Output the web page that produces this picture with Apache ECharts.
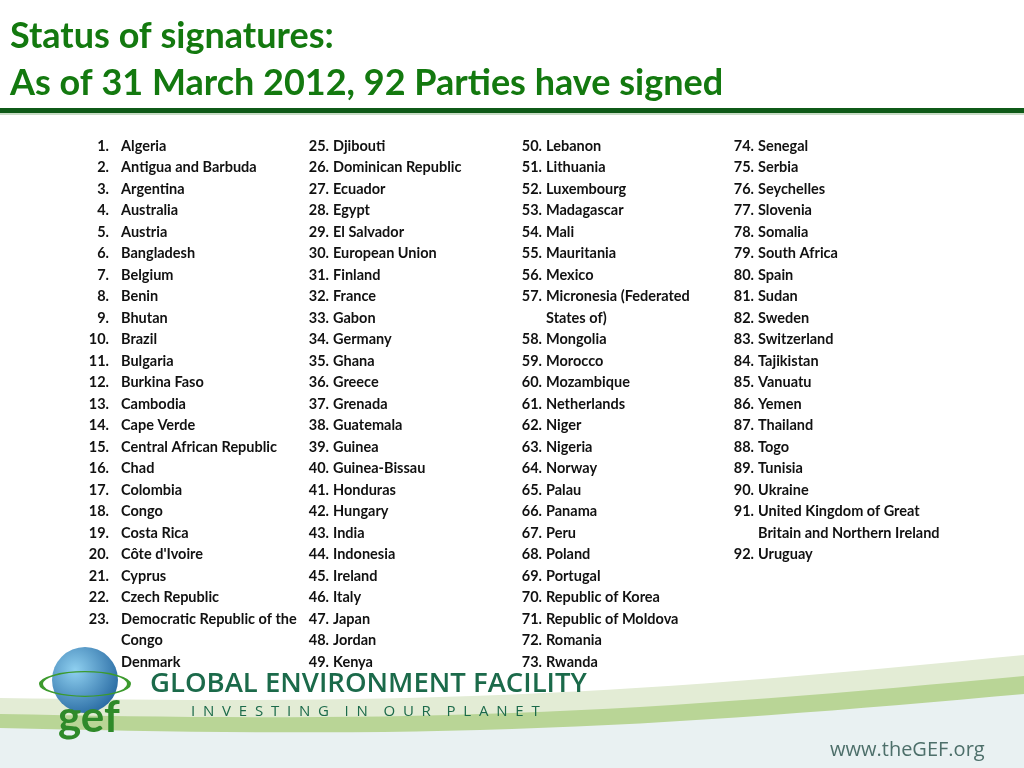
<!DOCTYPE html>
<html>
<head>
<meta charset="utf-8">
<script src="https://cdn.jsdelivr.net/npm/echarts@6/dist/echarts.min.js"></script>
<style>
  html, body { margin: 0; padding: 0; background: #fff; }
  #main { width: 1024px; height: 768px; }
</style>
</head>
<body>
<div id="main"></div>
<script>
// parties, in the order of the slide (split into the four columns)
const column1 = ['Algeria', 'Antigua and Barbuda', 'Argentina', 'Australia', 'Austria', 'Bangladesh',
    'Belgium', 'Benin', 'Bhutan', 'Brazil', 'Bulgaria', 'Burkina Faso', 'Cambodia', 'Cape Verde',
    'Central African Republic', 'Chad', 'Colombia', 'Congo', 'Costa Rica', "Côte d'Ivoire", 'Cyprus',
    'Czech Republic', 'Democratic Republic of the|Congo', 'Denmark'];
const column2 = ['Djibouti', 'Dominican Republic', 'Ecuador', 'Egypt', 'El Salvador', 'European Union',
    'Finland', 'France', 'Gabon', 'Germany', 'Ghana', 'Greece', 'Grenada', 'Guatemala', 'Guinea',
    'Guinea-Bissau', 'Honduras', 'Hungary', 'India', 'Indonesia', 'Ireland', 'Italy', 'Japan', 'Jordan', 'Kenya'];
const column3 = ['Lebanon', 'Lithuania', 'Luxembourg', 'Madagascar', 'Mali', 'Mauritania', 'Mexico',
    'Micronesia (Federated|States of)', 'Mongolia', 'Morocco', 'Mozambique', 'Netherlands', 'Niger',
    'Nigeria', 'Norway', 'Palau', 'Panama', 'Peru', 'Poland', 'Portugal', 'Republic of Korea',
    'Republic of Moldova', 'Romania', 'Rwanda'];
const column4 = ['Senegal', 'Serbia', 'Seychelles', 'Slovenia', 'Somalia', 'South Africa', 'Spain', 'Sudan',
    'Sweden', 'Switzerland', 'Tajikistan', 'Vanuatu', 'Yemen', 'Thailand', 'Togo', 'Tunisia', 'Ukraine',
    'United Kingdom of Great|Britain and Northern Ireland', 'Uruguay'];

const columns = [column1, column2, column3, column4];
const numberRight = [109, 329, 542, 754]; // right edge of the numbers
const nameLeft = [121, 333, 546, 758];
const titleLines = ['Status of signatures:', 'As of 31 March 2012, 92 Parties have signed'];

const GREEN = '#13790f';
const FONT = 'Lato, "Open Sans", sans-serif';

let elements = [];

// title
titleLines.forEach(function (t, i) {
    elements.push({ type: 'text', x: 10, y: 36 + i * 47,
        style: { text: t, font: 'bold 36px ' + FONT, fill: GREEN, verticalAlign: 'middle' } });
});
elements.push({ type: 'rect', shape: { x: 0, y: 108, width: 1024, height: 5 }, style: { fill: '#0f5a18' } });
elements.push({ type: 'rect', shape: { x: 0, y: 113, width: 1024, height: 2 }, style: { fill: '#c9dcc6' } });

// the lists
let n = 0;
columns.forEach(function (col, c) {
    let line = 0;
    for (let i in col) {
        n++;
        const parts = col[i].split('|');
        const y = 146 + line * 21.5;
        elements.push({ type: 'text', x: numberRight[c], y: y,
            style: { text: n + '.', font: 'bold 14.5px ' + FONT, fill: '#111', align: 'right', verticalAlign: 'middle' } });
        parts.forEach(function (p, k) {
            elements.push({ type: 'text', x: nameLeft[c], y: y + k * 21.5,
                style: { text: p, font: 'bold 14.5px ' + FONT, fill: '#111', verticalAlign: 'middle' } });
        });
        line += parts.length;
    }
});

// bottom swooshes: bands under a gentle curve
function band(y0, y1, fill) {
    let pts = [];
    for (let k = 0; k <= 32; k++) {
        const t = k / 32;
        pts.push([t * 1024, y0 + (y1 - y0) * t + 18 * Math.sin(Math.PI * t)]);
    }
    pts.push([1024, 768], [0, 768]);
    elements.push({ type: 'polygon', z: -1, shape: { points: pts }, style: { fill: fill } });
}
band(698, 655, '#e3ecd5');
band(714, 676, '#b9d596');
band(728, 694, '#e9f1f2');

// logo
elements.push({ type: 'circle', shape: { cx: 85, cy: 680, r: 33 },
    style: { fill: { type: 'radial', x: 0.35, y: 0.35, r: 0.8, colorStops: [
        { offset: 0, color: '#8fd0f0' }, { offset: 1, color: '#1d5f9a' }] } } });
elements.push({ type: 'circle', x: 85, y: 684, scaleY: 0.28, shape: { cx: 0, cy: 0, r: 44 },
    style: { fill: 'none', stroke: '#3c9a2d', lineWidth: 4 } });
elements.push({ type: 'text', x: 58, y: 718,
    style: { text: 'gef', font: 'bold 44px ' + FONT, fill: '#2f8a2a', verticalAlign: 'middle' } });
elements.push({ type: 'text', x: 150, y: 684,
    style: { text: 'GLOBAL ENVIRONMENT FACILITY', font: '600 27.5px "Open Sans", sans-serif', fill: '#1b6a4a', verticalAlign: 'middle' } });
elements.push({ type: 'text', x: 191, y: 712,
    style: { text: 'I  N  V  E  S  T  I  N  G    I  N    O  U  R    P  L  A  N  E  T', font: '15px "Open Sans", sans-serif', fill: '#1b6a4a', verticalAlign: 'middle' } });
elements.push({ type: 'text', x: 830, y: 750,
    style: { text: 'www.theGEF.org', font: '20px "Open Sans", sans-serif', fill: '#4d6f6a', verticalAlign: 'middle' } });

let chart = echarts.init(document.getElementById('main'));
chart.setOption({ backgroundColor: '#fff', animation: false, graphic: { elements: elements } });
</script>
</body>
</html>
